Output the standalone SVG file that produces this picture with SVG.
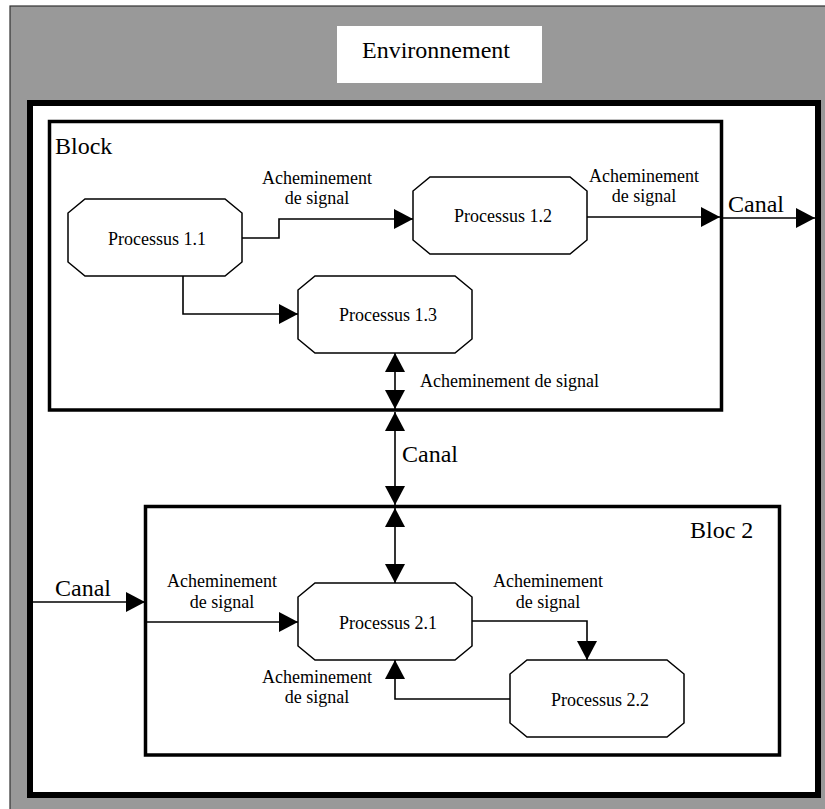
<svg xmlns="http://www.w3.org/2000/svg" width="825" height="809" viewBox="0 0 825 809">
  <style>
    .t { font-family: 'Liberation Serif', 'Times New Roman', Times, 'DejaVu Serif', serif; fill: #000; }
    .s { font-size: 18px; }
    .b { font-size: 24px; }
    .m { text-anchor: middle; }
    .proc { fill: #fff; stroke: #000; stroke-width: 1.5; }
    .blk { fill: #fff; stroke: #000; stroke-width: 3.5; }
    .con { fill: none; stroke: #000; stroke-width: 1.6; }
  </style>
  <defs>
    <marker id="ah" markerUnits="userSpaceOnUse" markerWidth="20" markerHeight="20" refX="19" refY="10" orient="auto-start-reverse" viewBox="0 0 20 20">
      <path d="M0,0 L19,10 L0,20 Z" fill="#000"/>
    </marker>
  </defs>

  <g id="environnement">
    <rect x="10" y="6" width="830" height="820" fill="#999999" stroke="#333" stroke-width="1.2"/>
    <rect x="337" y="26" width="205" height="57" fill="#fff"/>
    <text class="t b m" x="436" y="58" font-family="Liberation Serif">Environnement</text>
  </g>

  <g id="systeme">
    <rect x="30" y="103" width="788" height="692" fill="#fff" stroke="#000" stroke-width="6"/>
  </g>

  <g id="block1">
    <rect x="49.5" y="121.5" width="672" height="288.5" class="blk"/>
    <text class="t b" x="55" y="154">Block</text>
  </g>

  <g id="bloc2">
    <rect x="145.5" y="506.5" width="634" height="248.5" class="blk"/>
    <text class="t b" x="690" y="538">Bloc 2</text>
  </g>

  <g id="p11">
    <polygon class="proc" points="85,199 225,199 242,213 242,262 225,276 85,276 68,262 68,213"/>
    <text class="t s m" x="157" y="245">Processus 1.1</text>
  </g>
  <g id="p12">
    <polygon class="proc" points="430,177 570,177 587,191 587,240 570,254 430,254 413,240 413,191"/>
    <text class="t s m" x="503" y="222">Processus 1.2</text>
  </g>
  <g id="p13">
    <polygon class="proc" points="315,276 455,276 472,290 472,339 455,353 315,353 298,339 298,290"/>
    <text class="t s m" x="388" y="321">Processus 1.3</text>
  </g>
  <g id="p21">
    <polygon class="proc" points="315,583 455,583 472,597 472,646 455,660 315,660 298,646 298,597"/>
    <text class="t s m" x="388" y="629">Processus 2.1</text>
  </g>
  <g id="p22">
    <polygon class="proc" points="527,660 667,660 684,674 684,723 667,737 527,737 510,723 510,674"/>
    <text class="t s m" x="600" y="706">Processus 2.2</text>
  </g>

  <g id="connectors">
    <path class="con" d="M242,238 H279 V219 H413" marker-end="url(#ah)"/>
    <path class="con" d="M183,276 V314 H298" marker-end="url(#ah)"/>
    <path class="con" d="M587,217 H720" marker-end="url(#ah)"/>
    <path class="con" d="M723,218 H815" marker-end="url(#ah)"/>
    <path class="con" d="M395,353 V409" marker-start="url(#ah)" marker-end="url(#ah)"/>
    <path class="con" d="M395,412 V505" marker-start="url(#ah)" marker-end="url(#ah)"/>
    <path class="con" d="M395,508 V583" marker-start="url(#ah)" marker-end="url(#ah)"/>
    <path class="con" d="M32,602 H145" marker-end="url(#ah)"/>
    <path class="con" d="M147,622 H298" marker-end="url(#ah)"/>
    <path class="con" d="M472,621 H587 V660" marker-end="url(#ah)"/>
    <path class="con" d="M510,699 H395 V660" marker-end="url(#ah)"/>

    <text class="t s m" x="317" y="184">Acheminement</text>
    <text class="t s m" x="317" y="204">de signal</text>
    <text class="t s m" x="644" y="182">Acheminement</text>
    <text class="t s m" x="644" y="202">de signal</text>
    <text class="t b" x="728" y="212">Canal</text>
    <text class="t s" x="420" y="387">Acheminement de signal</text>
    <text class="t b" x="402" y="462">Canal</text>
    <text class="t b" x="55" y="596">Canal</text>
    <text class="t s m" x="222" y="587">Acheminement</text>
    <text class="t s m" x="222" y="608">de signal</text>
    <text class="t s m" x="548" y="587">Acheminement</text>
    <text class="t s m" x="548" y="608">de signal</text>
    <text class="t s m" x="317" y="683">Acheminement</text>
    <text class="t s m" x="317" y="703">de signal</text>
  </g>
</svg>
